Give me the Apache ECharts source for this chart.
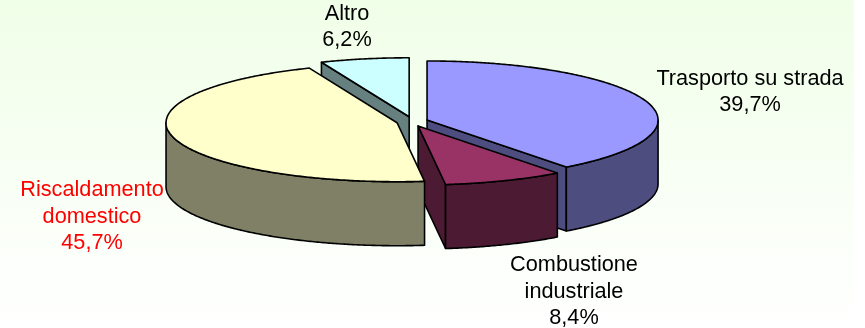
<!DOCTYPE html>
<html>
<head>
<meta charset="utf-8">
<style>html,body{margin:0;padding:0;background:#fff}#c{width:865px;height:328px}</style>
<script src="https://cdn.jsdelivr.net/npm/echarts@6/dist/echarts.min.js"></script>
</head>
<body>
<div id="c"></div>
<script>
var categories = ['Trasporto su strada', 'Combustione industriale', 'Riscaldamento domestico', 'Altro'];
var values = [39.7, 8.4, 45.7, 6.2];
var valueLabels = ['39,7%', '8,4%', '45,7%', '6,2%'];
var labelLines = [['Trasporto su strada'], ['Combustione', 'industriale'], ['Riscaldamento', 'domestico'], ['Altro']];
var topColors = ['#9999ff', '#993366', '#ffffcc', '#ccffff'];
var sideColors = ['#4d4d80', '#4d1a33', '#808066', '#668080'];
var textColors = ['#000000', '#000000', '#ff0000', '#000000'];
var drawOrder = [1, 2, 3, 0];

// pie layout (not data)
var CX = 412.2, CY = 121.5, RX = 231, RY = 59, DEPTH = 64, EX = 15.66, EY = 4.8;
var labelAnchors = [[750, 79], [574, 265.5], [92, 190.5], [347, 14]];
var LINE_H = 26.5, FONT = 21.7;

var total = values.reduce(function (s, v) { return s + v; }, 0);
var starts = [], acc = 0;
values.forEach(function (v) { starts.push(acc); acc += v / total * 360; });

function rim(c, deg, dy) {
  var t = deg * Math.PI / 180;
  return [c[0] + RX * Math.sin(t), c[1] - RY * Math.cos(t) + (dy || 0)];
}
function arc(c, a, b, dy) {
  var pts = [], n = Math.max(2, Math.ceil(Math.abs(b - a) * 2));
  for (var i = 0; i <= n; i++) pts.push(rim(c, a + (b - a) * i / n, dy));
  return pts;
}
var stroke = { stroke: '#000', lineWidth: 1.6, lineJoin: 'round' };
function poly(points, fill, z2) {
  return { type: 'polygon', z2: z2, shape: { points: points },
    style: { fill: fill, stroke: stroke.stroke, lineWidth: stroke.lineWidth, lineJoin: stroke.lineJoin } };
}

function renderItem(params, api) {
  var i = params.dataIndex;
  var a = starts[i], b = a + api.value(0) / total * 360;
  var mid = (a + b) / 2 * Math.PI / 180;
  var c = [CX + EX * Math.sin(mid), CY - EY * Math.cos(mid)];
  var base = drawOrder[i] * 10;
  var side = sideColors[i], kids = [];

  // cut faces seen from the front
  if (Math.sin(a * Math.PI / 180) < -1e-6) {
    var p = rim(c, a);
    kids.push(poly([p, c, [c[0], c[1] + DEPTH], [p[0], p[1] + DEPTH]], side, base + 1));
  }
  if (Math.sin(b * Math.PI / 180) > 1e-6) {
    var q = rim(c, b);
    kids.push(poly([c, q, [q[0], q[1] + DEPTH], [c[0], c[1] + DEPTH]], side, base + 1));
  }
  // outer wall: only the front half of the ellipse
  var wa = Math.max(a, 90), wb = Math.min(b, 270);
  if (wb > wa) {
    kids.push(poly(arc(c, wa, wb, 0).concat(arc(c, wb, wa, DEPTH)), side, base + 2));
  }
  // top face
  kids.push(poly([c].concat(arc(c, a, b, 0)), topColors[i], base + 3));

  // label
  var lines = labelLines[i].concat([valueLabels[i]]);
  lines.forEach(function (t, k) {
    kids.push({ type: 'text', z2: 100, style: {
      x: labelAnchors[i][0], y: labelAnchors[i][1] + k * LINE_H, text: t,
      fill: textColors[i], font: FONT + 'px "Liberation Sans", Arial, sans-serif',
      textAlign: 'center', textVerticalAlign: 'middle' } });
  });
  return { type: 'group', children: kids };
}

var chart = echarts.init(document.getElementById('c'), null, { renderer: 'canvas' });
chart.setOption({
  animation: false,
  backgroundColor: '#ffffff',
  graphic: [{ type: 'rect', z: -10, silent: true,
    shape: { x: 0, y: 0, width: 854, height: 328 },
    style: { fill: new echarts.graphic.LinearGradient(0, 0, 0, 1, [
      { offset: 0, color: '#f0ffe8' }, { offset: 1, color: '#ffffff' }]) } }],
  series: [{
    type: 'custom', coordinateSystem: 'none', silent: true,
    data: values.map(function (v, i) { return { name: categories[i], value: [v] }; }),
    renderItem: renderItem
  }]
});
</script>
</body>
</html>
